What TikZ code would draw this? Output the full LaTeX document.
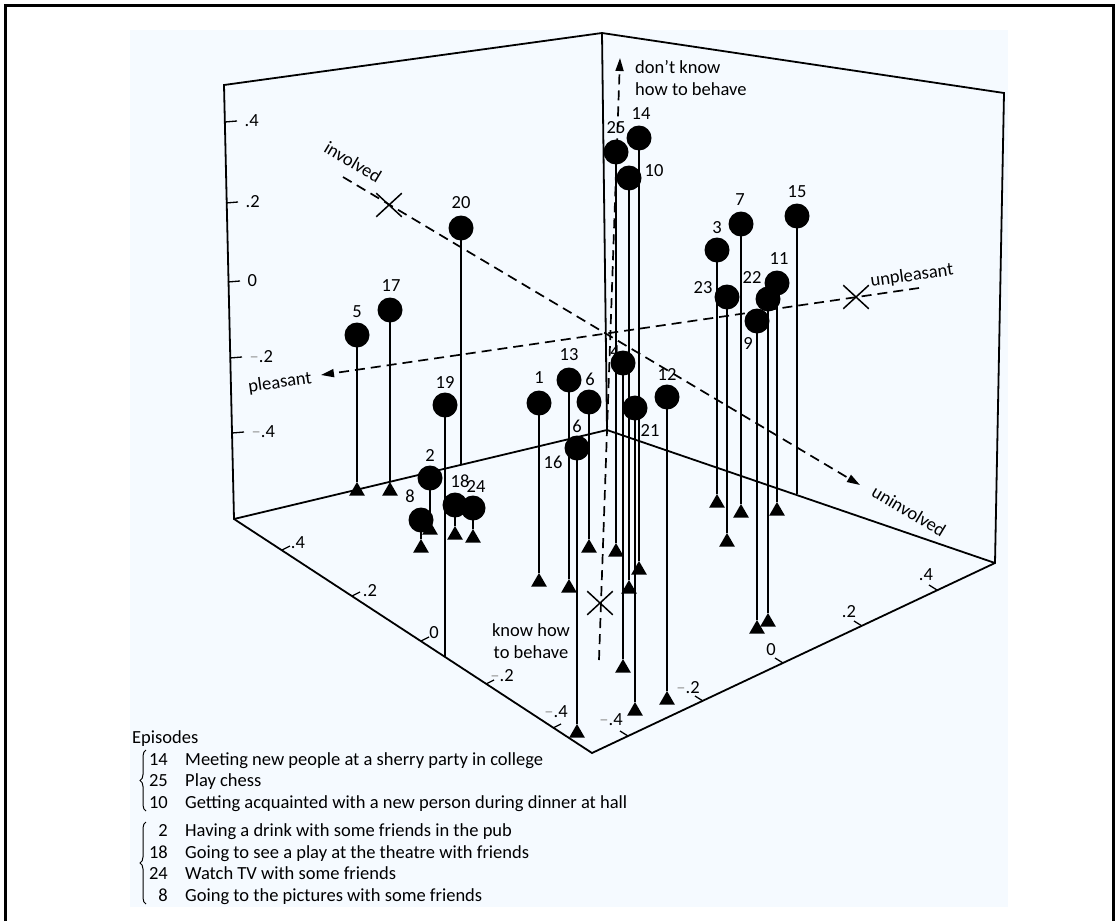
\documentclass[tikz,border=0pt]{standalone}
\usepackage{fontspec}
\setmainfont{Carlito}
\usetikzlibrary{arrows.meta,shapes.geometric,shapes.misc,decorations.pathreplacing}
\definecolor{paper}{RGB}{245,250,255}
\newcommand\figfont{\fontsize{18.5}{22}\selectfont}
\newcommand\mn{\textcolor{black!40}{--}}

\tikzset{
  boxline/.style={line width=1.8pt},
  dashaxis/.style={line width=1.7pt,dash pattern=on 10pt off 6pt},
  stem/.style={line width=1.2pt},
  tick/.style={line width=1.3pt},
  ball/.style={circle,fill=black,minimum size=25pt,inner sep=0pt},
  foot/.style={regular polygon,regular polygon sides=3,fill=black,minimum size=18pt,inner sep=0pt},
  xmark/.style={cross out,draw,line width=1.5pt,minimum width=24pt,minimum height=22pt,inner sep=0pt},
  txt/.style={font=\figfont,inner sep=0pt},
  tipa/.style={-{Triangle[length=13pt,width=8pt]}},
  brace/.style={decorate,decoration={brace,amplitude=6pt},line width=1pt},
}

% episode / x / y / foot y / label x / label y
\def\pts{5/357/335/491/357/312, 17/390/310/491/391/286, 2/430/478/530/430/455,
  8/421/520/548/410/496, 18/455/505/535/460/481, 24/473/508/538/476/486,
  1/539/403/582/539/378, 13/569/380/588/569/355, 6/589/402/548/590/379,
  16/577/448/733/553/462, 4/623/363/668/615/352, 21/635/408/711/650/430,
  12/667/397/700/667/374, 25/616/152/552/616/128, 14/639/138/570/641/114,
  10/629/178/589/654/171, 3/717/250/503/717/228, 7/741/224/513/740/200,
  23/727/297/542/703/288, 22/768/299/622/752/277, 11/777/283/511/779/259,
  9/757/321/629/748/343}
% stems that stop on the box edge
\def\loose{20/461/228/464/461/203, 19/445/405/657/445/382, 15/797/216/494/797/192}
\edef\allpts{\pts,\loose}

\begin{document}
\begin{tikzpicture}[x=1pt,y=-1pt]
\useasboundingbox (0,0) rectangle (1119,921);
\fill[white] (0,0) rectangle (1119,921);
\fill[paper] (130,30) rectangle (1008,907);
\draw[line width=2.5pt] (5.5,921) -- (5.5,5.5) -- (1113.5,5.5) -- (1113.5,921);

% box
\coordinate (apex) at (602,33);
\coordinate (tl) at (224,85);
\coordinate (tr) at (1004,93);
\coordinate (bk) at (607,430);
\coordinate (bl) at (234,519);
\coordinate (br) at (995,563);
\coordinate (fr) at (592,753);
\draw[boxline] (bk) -- (apex);
\draw[boxline] (bl) -- (bk) -- (br);
\draw[boxline] (fr) -- (bl) -- (tl) -- (apex) -- (tr) -- (br) -- cycle;

% scales
\foreach \ty/\tx/\v [count=\i] in {122/225/.4, 203/226/.2, 282/228/0, 358/230/\mn.2, 433/232/\mn.4}
  \draw[tick] (\tx,\ty) -- ++(12,-1) node[txt,anchor=west,xshift=7pt] (wl\i) {\v};
\foreach \tx/\ty/\lx/\ly/\v [count=\i] in {282/550/298/543/.4, 352/596/370/591/.2, 421/641/434/633/0,
    486/684/502/676/\mn.2, 553/728/556/712/\mn.4}{
  \draw[tick] (\tx,\ty) -- ++(8,-4);
  \node[txt] (fl\i) at (\lx,\ly) {\v};
}
\foreach \tx/\ty/\lx/\ly/\v [count=\i] in {628/736/611/720/\mn.4, 703/701/688/688/\mn.2, 783/663/771/650/0,
    862/626/849/612/.2, 937/590/926/575/.4}{
  \draw[tick] (\tx,\ty) -- ++(-8,-5);
  \node[txt] (fr\i) at (\lx,\ly) {\v};
}

% axes
\coordinate (pl) at (321,375);
\coordinate (unp) at (919,288);
\coordinate (inv) at (343,177);
\coordinate (uninv) at (860,485);
\coordinate (knw) at (599,660);
\coordinate (dknw) at (620,58);
\draw[dashaxis,tipa] (unp) -- (pl);
\draw[dashaxis,tipa] (inv) -- (uninv);
\draw[dashaxis,tipa] (knw) -- (dknw);
\node[xmark] (xinv) at (389,205) {};
\node[xmark] (xunp) at (856,297) {};
\node[xmark] (xknw) at (600,603) {};

\node[txt,rotate=8] (lpl) at (280,383) {pleasant};
\node[txt,rotate=8] (lunp) at (912,276) {unpleasant};
\node[txt,rotate=-31] (linv) at (353,162) {involved};
\node[txt,rotate=-31] (luninv) at (909,511) {uninvolved};
\node[txt,align=left,anchor=north west] (ldk) at (635,60) {don't know\\how to behave};
\node[txt,align=center,anchor=north] (lkn) at (531,623) {know how\\to behave};

% episodes
\foreach \n/\x/\y/\ty/\lx/\ly in \pts {
  \coordinate (c\n) at (\x,\y);
  \node[foot] (t\n) at (\x,\ty) {};
  \draw[stem] (c\n) -- (t\n.corner 1);
}
\foreach \n/\x/\y/\ty/\lx/\ly in \loose {
  \coordinate (c\n) at (\x,\y);
  \coordinate (e\n) at (\x,\ty);
  \draw[stem] (c\n) -- (e\n);
}
\foreach \n/\x/\y/\ty/\lx/\ly in \allpts {
  \node[ball] (p\n) at (c\n) {};
  \node[txt] (l\n) at (\lx,\ly) {\n};
}
\node[txt] (l6b) at (577,426) {6};

% key
\node[txt,anchor=base west] (epi) at (132,743) {Episodes};
\foreach \k/\yy/\desc in {14/765/Meeting new people at a sherry party in college, 25/786/Play chess,
    10/808/Getting acquainted with a new person during dinner at hall,
    2/836/Having a drink with some friends in the pub,
    18/858/Going to see a play at the theatre with friends,
    24/879/Watch TV with some friends, 8/901/Going to the pictures with some friends}{
  \node[txt,anchor=base east] (n\k) at (168,\yy) {\k};
  \node[txt,anchor=base west] (d\k) at (185,\yy) {\desc};
}
\draw[brace] (146,811) -- (146,750);
\draw[brace] (146,904) -- (146,822);

\end{tikzpicture}
\end{document}
